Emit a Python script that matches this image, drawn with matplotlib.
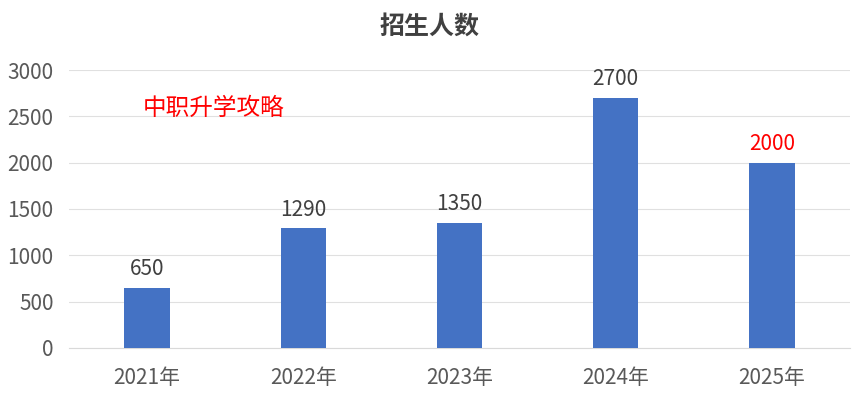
import matplotlib.pyplot as plt

plt.rcParams['font.family'] = ['Noto Sans CJK SC', 'DejaVu Sans']

years = ['2021年', '2022年', '2023年', '2024年', '2025年']
students = [650, 1290, 1350, 2700, 2000]
label_colors = ['#404040', '#404040', '#404040', '#404040', '#FF0000']

fig = plt.figure(figsize=(8.59, 4.03), dpi=100)
ax = fig.add_axes([0.0803, 0.1365, 0.9092, 0.6898])

x = range(len(years))
bars = ax.bar(x, students, width=0.29, color='#4472C4', zorder=3)

for xi, v, c in zip(x, students, label_colors):
    ax.text(xi, v + 80, str(v), ha='center', va='bottom', fontsize=15,
            color=c, fontweight='light')

ax.set_xlim(-0.5, len(years) - 0.5)
ax.set_ylim(0, 3000)
ax.set_yticks(range(0, 3001, 500))
ax.set_xticks(list(x))
ax.set_xticklabels(years)
ax.tick_params(axis='both', length=0, labelsize=15, labelcolor='#595959')
ax.tick_params(axis='x', pad=14)
ax.tick_params(axis='y', pad=11)
for lab in ax.get_xticklabels() + ax.get_yticklabels():
    lab.set_fontweight('light')
ax.grid(axis='y', color='#E0E0E0', linewidth=0.8, zorder=0)
for s in ['top', 'right', 'left']:
    ax.spines[s].set_visible(False)
ax.spines['bottom'].set_color('#D9D9D9')

fig.text(0.5, 0.933, '招生人数', ha='center', va='center', fontsize=18,
         fontweight='bold', color='#404040')
ax.text(0.095, 0.86, '中职升学攻略', transform=ax.transAxes, fontsize=17,
        color='#FF0000', va='center', ha='left')

fig.savefig('out.png', dpi=100)
